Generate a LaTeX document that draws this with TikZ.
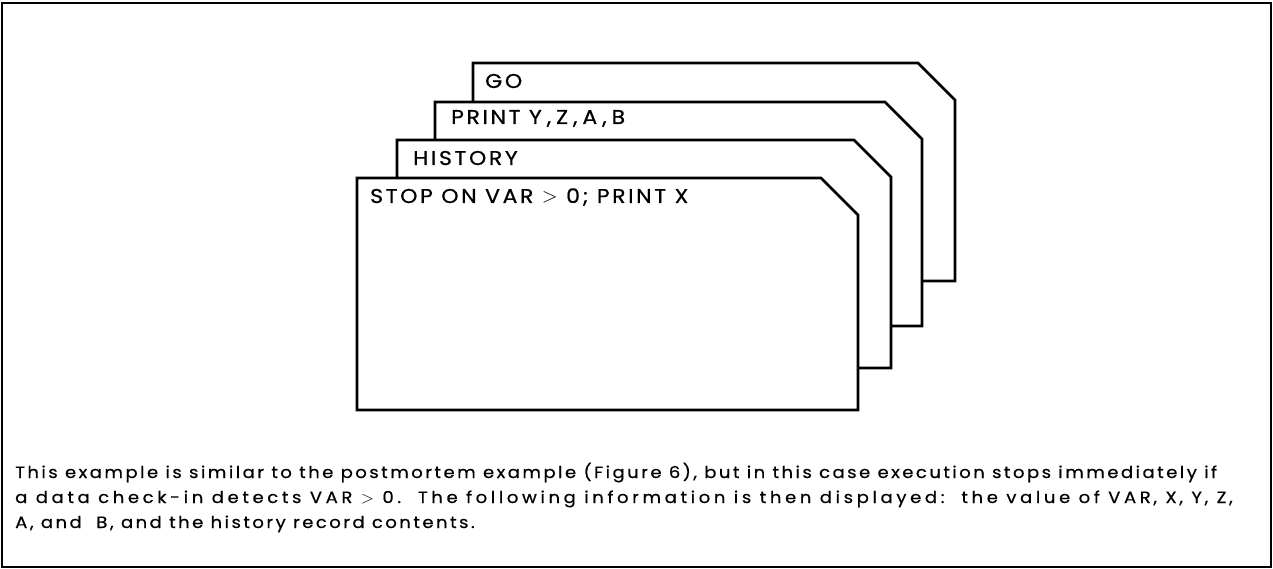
\documentclass[tikz,border=0pt]{standalone}
\usepackage{fontspec}
\setmainfont{Poppins}
\usetikzlibrary{positioning}
\newfontfamily\cardfont[FakeStretch=1.1, LetterSpace=13, FakeBold=0.6]{Poppins}
\newfontfamily\notefont[FakeStretch=1.1, LetterSpace=15, FakeBold=0.5]{Poppins}
\newfontfamily\notewidefont[FakeStretch=1.1, LetterSpace=22, FakeBold=0.5]{Poppins}

\begin{document}
\begin{tikzpicture}[
    x=1pt, y=-1pt,
    cardbox/.style 2 args={draw=none, rectangle, inner sep=0pt, outer sep=0pt,
        minimum width=#1, minimum height=#2},
    cardline/.style={draw=black, line width=2.7pt, fill=white, line join=miter},
    cardtext/.style={anchor=base west, inner sep=0pt, font=\cardfont\fontsize{20}{24}\selectfont},
    note/.style={anchor=base west, inner sep=0pt, font=\notefont\fontsize{16.4}{25}\selectfont},
    notewide/.style={note, font=\notewidefont\fontsize{16.4}{25}\selectfont}
]
\useasboundingbox (0,0) rectangle (1273,569);
\draw[line width=2pt] (2,3) rectangle (1271,567);

% cards, back to front
\node[cardbox={482pt}{218pt}] (go) at (714,172) {};
\filldraw[cardline] (go.north west) -- ([xshift=-37pt]go.north east) -- ([yshift=-37pt]go.north east)
    -- (go.south east) -- (go.south west) -- cycle;
\node[cardtext] (golbl) at ([shift={(12,25)}]go.north west) {GO};

\node[cardbox={487pt}{224pt}] (print) at (678.5,214) {};
\filldraw[cardline] (print.north west) -- ([xshift=-37pt]print.north east) -- ([yshift=-37pt]print.north east)
    -- (print.south east) -- (print.south west) -- cycle;
\node[cardtext] (printlbl) at ([shift={(16,22)}]print.north west) {PRINT Y\kern5pt,\kern5pt Z\kern5pt,\kern5pt A\kern5pt,\kern5pt B};

\node[cardbox={494pt}{228pt}] (hist) at (644,254) {};
\filldraw[cardline] (hist.north west) -- ([xshift=-37pt]hist.north east) -- ([yshift=-37pt]hist.north east)
    -- (hist.south east) -- (hist.south west) -- cycle;
\node[cardtext] (histlbl) at ([shift={(16,25)}]hist.north west) {HISTORY};

\node[cardbox={501pt}{232pt}] (stop) at (607.5,294) {};
\filldraw[cardline] (stop.north west) -- ([xshift=-37pt]stop.north east) -- ([yshift=-37pt]stop.north east)
    -- (stop.south east) -- (stop.south west) -- cycle;
\node[cardtext] (stoplbl) at ([shift={(13,25)}]stop.north west) {STOP ON VAR $>$ 0; PRINT X};

% caption
\node[note] (note1) at (15,478) {This example is similar to the postmortem example (Figure 6), but in this case execution stops immediately if};
\node[notewide] (note2) at ([shift={(0,25)}]note1.base west) {a data check-in detects VAR $>$ 0.\ \ The following information is then displayed:\ \ the value of VAR\,, X\,, Y\,, Z\,,};
\node[note] (note3) at ([shift={(0,25)}]note2.base west) {A\,, and\ \ B\,, and the history record contents.};
\end{tikzpicture}
\end{document}
